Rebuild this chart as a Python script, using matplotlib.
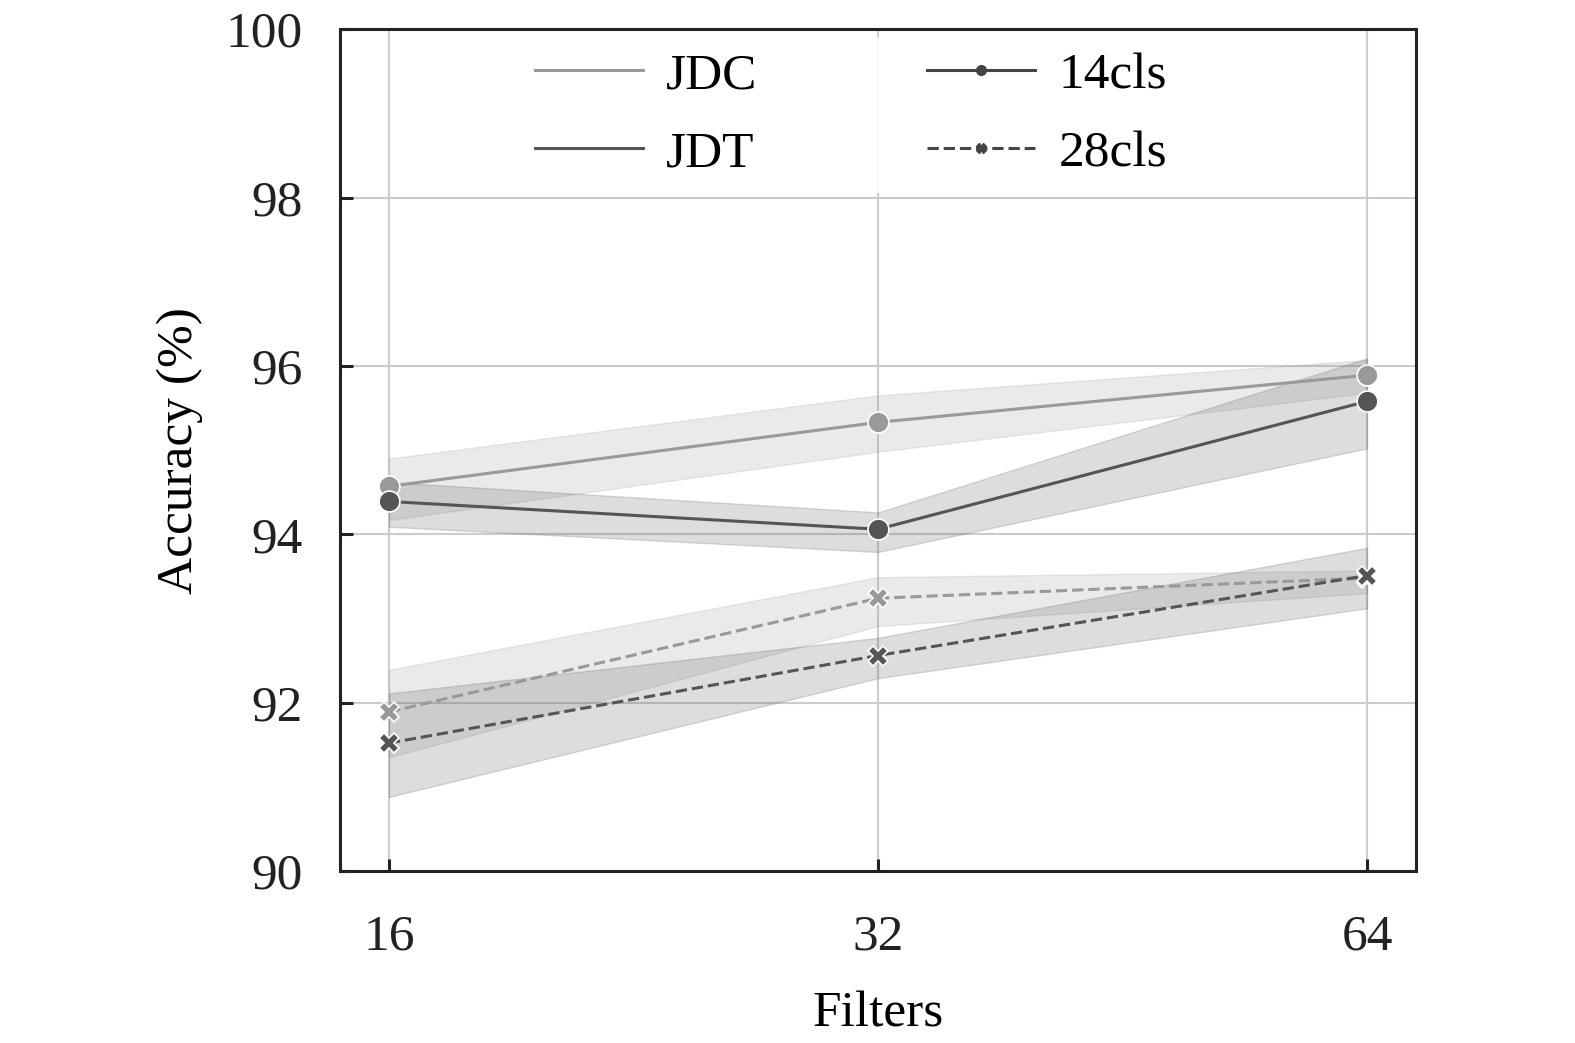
import numpy as np
import matplotlib.pyplot as plt
from matplotlib.lines import Line2D

plt.rcParams['font.family'] = ['Liberation Serif', 'DejaVu Serif']

# data
filters = ['16', '32', '64']

jdc_14 = [94.57, 95.33, 95.89]
jdc_14_lo = [94.17, 94.98, 95.68]
jdc_14_hi = [94.90, 95.65, 96.07]

jdt_14 = [94.39, 94.06, 95.58]
jdt_14_lo = [94.09, 93.79, 95.02]
jdt_14_hi = [94.62, 94.26, 96.09]

jdc_28 = [91.89, 93.24, 93.48]
jdc_28_lo = [91.35, 92.91, 93.30]
jdc_28_hi = [92.39, 93.49, 93.57]

jdt_28 = [91.52, 92.56, 93.51]
jdt_28_lo = [90.88, 92.29, 93.12]
jdt_28_hi = [92.11, 92.77, 93.84]

c_jdc = '#999999'
c_jdt = '#555555'

fig = plt.figure(figsize=(15.75, 10.43), dpi=100)
ax = fig.add_axes([0.2159, 0.1649, 0.6831, 0.8071])

x = np.arange(len(filters))

series = [
    (jdc_14, jdc_14_lo, jdc_14_hi, c_jdc, '-', 'o'),
    (jdt_14, jdt_14_lo, jdt_14_hi, c_jdt, '-', 'o'),
    (jdc_28, jdc_28_lo, jdc_28_hi, c_jdc, '--', 'X'),
    (jdt_28, jdt_28_lo, jdt_28_hi, c_jdt, '--', 'X'),
]

for y, lo, hi, col, ls, mk in series:
    ax.fill_between(x, lo, hi, color=col, alpha=0.2, linewidth=1, zorder=2)
    ax.plot(x, y, color=col, linestyle=ls, linewidth=2.2, marker=mk,
            markersize=15 if mk == 'o' else 14, markeredgecolor='white',
            markeredgewidth=1.2, zorder=3)

ax.set_xlim(-0.1, 2.1)
ax.set_ylim(90, 100)
ax.set_xticks(x)
ax.set_xticklabels(filters)
ax.set_yticks([90, 92, 94, 96, 98, 100])
ax.grid(True, color='#cccccc', linewidth=1.5, zorder=0)
ax.set_axisbelow(True)

for s in ax.spines.values():
    s.set_linewidth(2.2)
    s.set_color('#222222')

ax.tick_params(direction='in', length=9, width=2.2, labelsize=37, pad=31,
               colors='#222222', labelcolor='#222222')
ax.tick_params(axis='y', pad=27)

ax.set_xlabel('Filters', fontsize=37, labelpad=22)
ax.set_ylabel('Accuracy (%)', fontsize=37, labelpad=16)

handles = [
    Line2D([], [], color=c_jdc, linewidth=2.2),
    Line2D([], [], color=c_jdt, linewidth=2.2),
    Line2D([], [], color='#444444', linewidth=2.2, marker='o', markersize=7),
    Line2D([], [], color='#444444', linewidth=2.2, linestyle='--', marker='X', markersize=7),
]
labels = ['JDC', 'JDT', '14cls', '28cls']
leg = ax.legend(handles, labels, ncol=2, loc='upper center', fontsize=37,
                frameon=True, framealpha=0.85, edgecolor='none',
                handlelength=2.1, handletextpad=0.45, columnspacing=3.3,
                labelspacing=0.6, borderpad=0.3, borderaxespad=0.15,
                bbox_to_anchor=(0.475, 1.0))
leg.get_frame().set_linewidth(0)

fig.savefig('out.png', dpi=100)
